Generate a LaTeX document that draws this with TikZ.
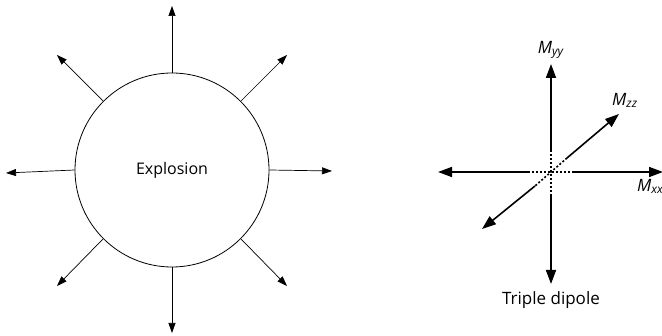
\documentclass[tikz,border=0pt]{standalone}
\usepackage{fontspec}
\setmainfont{Open Sans}
\usetikzlibrary{arrows.meta,positioning}
\tikzset{
  blast/.style = {draw, line width=0.8pt, circle, minimum size=194pt, inner sep=0pt, font=\fontsize{16}{18}\selectfont},
  ray/.style = {line width=0.7pt, -{Triangle[length=10pt, width=7pt]}},
  pole/.style = {line width=1.6pt, -{Triangle[length=14pt, width=10pt]}},
  core/.style = {line width=1.6pt, dash pattern=on 2pt off 2pt},
  lab/.style = {font=\fontsize{17}{19}\selectfont, inner sep=1pt}
}
\begin{document}
\begin{tikzpicture}[x=1pt, y=-1pt]
  \useasboundingbox (0,0) rectangle (662,336);
  % explosion source
  \node[blast] (expl) at (172,170) {Explosion};
  \coordinate (tip-e) at (332,171);
  \coordinate (tip-ne) at (287,55);
  \coordinate (tip-n) at (172,6);
  \coordinate (tip-nw) at (57,55);
  \coordinate (tip-w) at (6,173);
  \coordinate (tip-sw) at (57,286);
  \coordinate (tip-s) at (172,333);
  \coordinate (tip-se) at (287,286);
  \foreach \a/\n in {0/e, 45/ne, 90/n, 135/nw, 180/w, 225/sw, 270/s, 315/se} {
    \draw[ray] (expl.\a) -- (tip-\n);
  }
  % triple dipole
  \coordinate (yt) at (551,64);
  \coordinate (ya) at (551,150);
  \coordinate (yb) at (551,194);
  \coordinate (yd) at (551,284);
  \coordinate (xl) at (438,172);
  \coordinate (xa) at (528,172);
  \coordinate (xb) at (574,172);
  \coordinate (xr) at (663,172);
  \coordinate (zt) at (619,114);
  \coordinate (za) at (567,158);
  \coordinate (zb) at (535,186);
  \coordinate (zd) at (482,229);
  \draw[pole] (ya) -- (yt);
  \draw[pole] (yb) -- (yd);
  \draw[pole] (xa) -- (xl);
  \draw[pole] (xb) -- (xr);
  \draw[pole] (za) -- (zt);
  \draw[pole] (zb) -- (zd);
  \draw[core] (ya) -- (yb);
  \draw[core] (xa) -- (xb);
  \draw[core] (za) -- (zb);
  \node[lab, above=4pt] (myy) at (yt) {\textit{M}\textsubscript{\textit{yy}}};
  \node[lab, anchor=south west] (mzz) at (611,109) {\textit{M}\textsubscript{\textit{zz}}};
  \node[lab, anchor=north west] (mxx) at (636,178) {\textit{M}\textsubscript{\textit{xx}}};
  \node[lab, below=6pt] (trip) at (yd) {Triple dipole};
\end{tikzpicture}
\end{document}
